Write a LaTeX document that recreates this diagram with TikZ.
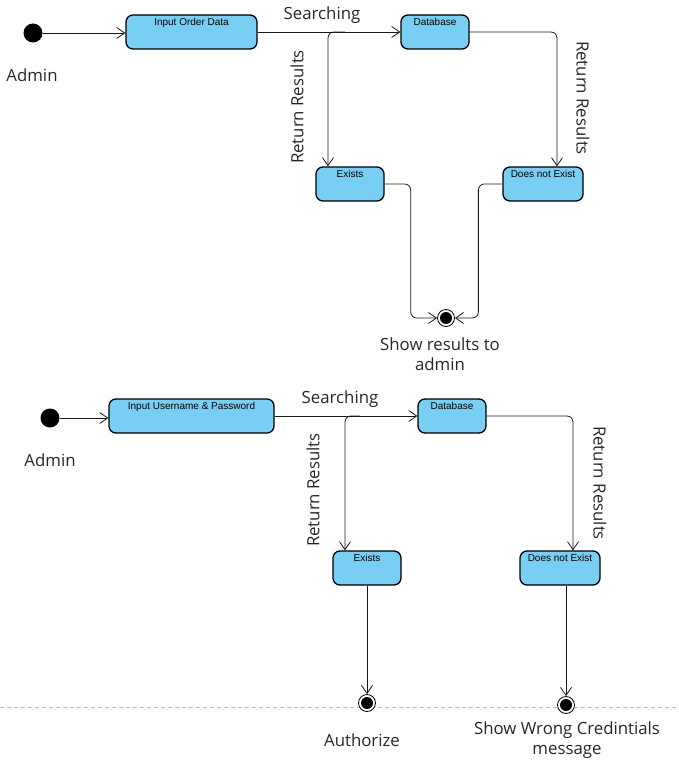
\documentclass[tikz,border=0pt]{standalone}
\usepackage{fontspec}
\setmainfont{Open Sans}
\newfontfamily\boxfont{Liberation Sans}
\usepackage{xcolor}
\usepackage{tikz}
\usetikzlibrary{arrows.meta}

\definecolor{statefill}{HTML}{79CEF4}
\tikzset{
  state/.style={shape=rectangle,rounded corners=7pt,draw=black,line width=1.3pt,fill=statefill,
    font=\boxfont\fontsize{10}{12}\selectfont,text height=8pt,text depth=21pt,inner ysep=2.5pt,inner xsep=2pt},
  startdot/.style={shape=circle,fill=black,inner sep=0pt,minimum size=19pt},
  finaldot/.style={shape=circle,draw=black,fill=white,line width=0.8pt,inner sep=0pt,minimum size=17pt,
    path picture={\fill[black] (path picture bounding box.center) circle (6pt);}},
  trans/.style={draw=black!90,line width=0.8pt,rounded corners=6pt,
    -{Straight Barb[length=8pt,width=11pt,line width=0.8pt]}},
  lbl/.style={font=\fontsize{16.8}{20.5}\selectfont,align=center,text=black!85},
}

\begin{document}
\begin{tikzpicture}[x=1pt,y=-1pt]
\useasboundingbox (0,0) rectangle (679,768);

\draw[black!25,line width=0.8pt,dash pattern=on 4pt off 3pt] (0,707) -- (679,707);

% order search
\node[startdot] (s1) at (33,33) {};
\node[lbl] (a1) at (32,75) {Admin};
\node[state,minimum width=131pt] (in1) at (191.5,32) {Input Order Data};
\node[state,minimum width=68pt] (db1) at (435,32) {Database};
\node[state,minimum width=68pt] (ex1) at (350,184) {Exists};
\node[state,minimum width=80pt] (ne1) at (543,184) {Does not Exist};
\node[finaldot] (f1) at (446,318) {};
\node[lbl] (r1) at (440,354) {Show results to\\admin};

\node[lbl] (q1) at (322,15) {Searching};
\node[lbl,rotate=90] (t1) at (297,107) {Return Results};
\node[lbl,rotate=-90] (t2) at (583,98) {Return Results};

\coordinate (b1) at (345,32);
\draw[trans] (s1) -- (in1.west |- s1);
\draw[trans] (in1) -- (db1);
\draw[trans] (b1) -| ([xshift=-22pt]ex1.north);
\draw[trans] (db1) -| ([xshift=14pt]ne1.north);
\draw[trans] (ex1.east) -- ++(26,0) |- (f1.west);
\draw[trans] (ne1.west) -- ++(-24,0) |- (f1.east);

% login
\node[startdot] (s2) at (50,418) {};
\node[lbl] (a2) at (50,460) {Admin};
\node[state,minimum width=165pt] (in2) at (191.5,416) {Input Username \& Password};
\node[state,minimum width=68pt] (db2) at (452,416) {Database};
\node[state,minimum width=68pt] (ex2) at (367,568) {Exists};
\node[state,minimum width=80pt] (ne2) at (560,568) {Does not Exist};
\node[finaldot] (f2) at (367,703) {};
\node[finaldot] (f3) at (566,705) {};
\node[lbl] (au) at (362,740) {Authorize};
\node[lbl] (sw) at (567,740) {Show Wrong Credintials\\message};

\node[lbl] (q2) at (340,399) {Searching};
\node[lbl,rotate=90] (t3) at (313,490) {Return Results};
\node[lbl,rotate=-90] (t4) at (600,483) {Return Results};

\coordinate (b2) at (360,416);
\draw[trans] (s2) -- (in2.west |- s2);
\draw[trans] (in2) -- (db2);
\draw[trans] (b2) -| ([xshift=-22pt]ex2.north);
\draw[trans] (db2) -| ([xshift=13pt]ne2.north);
\draw[trans] (ex2) -- (f2);
\draw[trans] (ne2.south -| f3) -- (f3);
\end{tikzpicture}
\end{document}
